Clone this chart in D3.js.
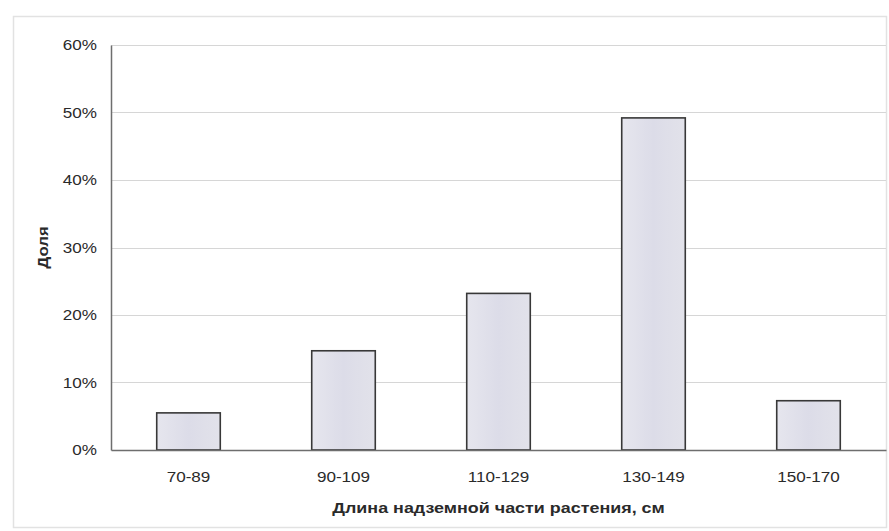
<!DOCTYPE html>
<html>
<head>
<meta charset="utf-8">
<script src="https://cdn.jsdelivr.net/npm/d3@7/dist/d3.min.js"></script>
<style>
  html, body { margin: 0; padding: 0; background: #fff; }
  svg { display: block; }
  text { font-family: "Liberation Sans", Arial, sans-serif; fill: #2a2a2a; }
</style>
</head>
<body>
<svg id="chart" width="889" height="531"></svg>
<script>
// Length classes of the above-ground part and their shares
const categories = ["70-89", "90-109", "110-129", "130-149", "150-170"];
const shares = [0.055, 0.147, 0.232, 0.492, 0.073];
const yTicks = [0, 0.1, 0.2, 0.3, 0.4, 0.5, 0.6];
const xTitle = "Длина надземной части растения, см";
const yTitle = "Доля";

const W = 889, H = 531;
const margin = { top: 45, right: 3, bottom: 81, left: 111 };
const stretch = 1.22; // wide lettering

const svg = d3.select("#chart");

// soft lavender bar fill
const grad = svg.append("defs").append("linearGradient")
  .attr("id", "barFill").attr("x1", "0").attr("x2", "1").attr("y1", "0").attr("y2", "0");
grad.append("stop").attr("offset", "0%").attr("stop-color", "#e6e6ee");
grad.append("stop").attr("offset", "50%").attr("stop-color", "#dcdce8");
grad.append("stop").attr("offset", "100%").attr("stop-color", "#e2e2ea");

// outer chart frame
svg.append("rect")
  .attr("x", 13.5).attr("y", 16.5).attr("width", 873).attr("height", 511)
  .attr("fill", "none").attr("stroke", "#e2e2e2").attr("stroke-width", 1.5);

const x = d3.scaleBand()
  .domain(categories)
  .range([margin.left, W - margin.right])
  .paddingInner(0.59)
  .paddingOuter(0.295);

const y = d3.scaleLinear()
  .domain([0, 0.6])
  .range([H - margin.bottom, margin.top]);

// horizontal gridlines
svg.append("g")
  .selectAll("line")
  .data(yTicks.filter(d => d > 0))
  .join("line")
  .attr("x1", margin.left).attr("x2", W - margin.right)
  .attr("y1", d => Math.round(y(d)) + 0.5).attr("y2", d => Math.round(y(d)) + 0.5)
  .attr("stroke", "#d6d6d6").attr("stroke-width", 1);

// y axis
const yAxis = svg.append("g")
  .attr("transform", `translate(${margin.left},0)`)
  .call(d3.axisLeft(y).tickValues(yTicks).tickFormat(d3.format(".0%")).tickSize(0).tickPadding(0));
yAxis.select(".domain").attr("stroke", "#6e6e6e").attr("stroke-width", 1.5);
yAxis.selectAll(".tick text")
  .attr("x", null).attr("dy", null)
  .attr("dominant-baseline", "central")
  .attr("text-anchor", "end")
  .attr("transform", `translate(-14,0) scale(${stretch},1)`)
  .style("font-size", "14px")
  .style("font-family", "'Liberation Sans', Arial, sans-serif")
  .attr("fill", "#2a2a2a");

// bars
svg.append("g")
  .selectAll("rect")
  .data(categories.map((c, i) => ({ c, v: shares[i] })))
  .join("rect")
  .attr("x", d => x(d.c))
  .attr("y", d => y(d.v))
  .attr("width", x.bandwidth())
  .attr("height", d => y(0) - y(d.v))
  .attr("fill", "url(#barFill)")
  .attr("stroke", "#383838")
  .attr("stroke-width", 1.6);

// x axis
const xAxis = svg.append("g")
  .attr("transform", `translate(0,${y(0)})`)
  .call(d3.axisBottom(x).tickSize(0).tickPadding(0).tickSizeOuter(0));
xAxis.select(".domain").attr("stroke", "#6e6e6e").attr("stroke-width", 1.5);
xAxis.selectAll(".tick text")
  .attr("y", null).attr("dy", null)
  .attr("dominant-baseline", "central")
  .attr("transform", `translate(0,27) scale(${stretch},1)`)
  .style("font-size", "14px")
  .style("font-family", "'Liberation Sans', Arial, sans-serif")
  .attr("fill", "#2a2a2a");

// axis titles
svg.append("text")
  .attr("transform", `translate(${(margin.left + W - margin.right) / 2},508) scale(1.28,1)`)
  .attr("text-anchor", "middle")
  .attr("dominant-baseline", "central")
  .style("font-size", "14px")
  .style("font-weight", "bold")
  .text(xTitle);

svg.append("text")
  .attr("transform", `translate(42,${(y(0) + y(0.6)) / 2}) rotate(-90) scale(1.2,1.1)`)
  .attr("text-anchor", "middle")
  .attr("dominant-baseline", "central")
  .style("font-size", "14px")
  .style("font-weight", "bold")
  .text(yTitle);
</script>
</body>
</html>
